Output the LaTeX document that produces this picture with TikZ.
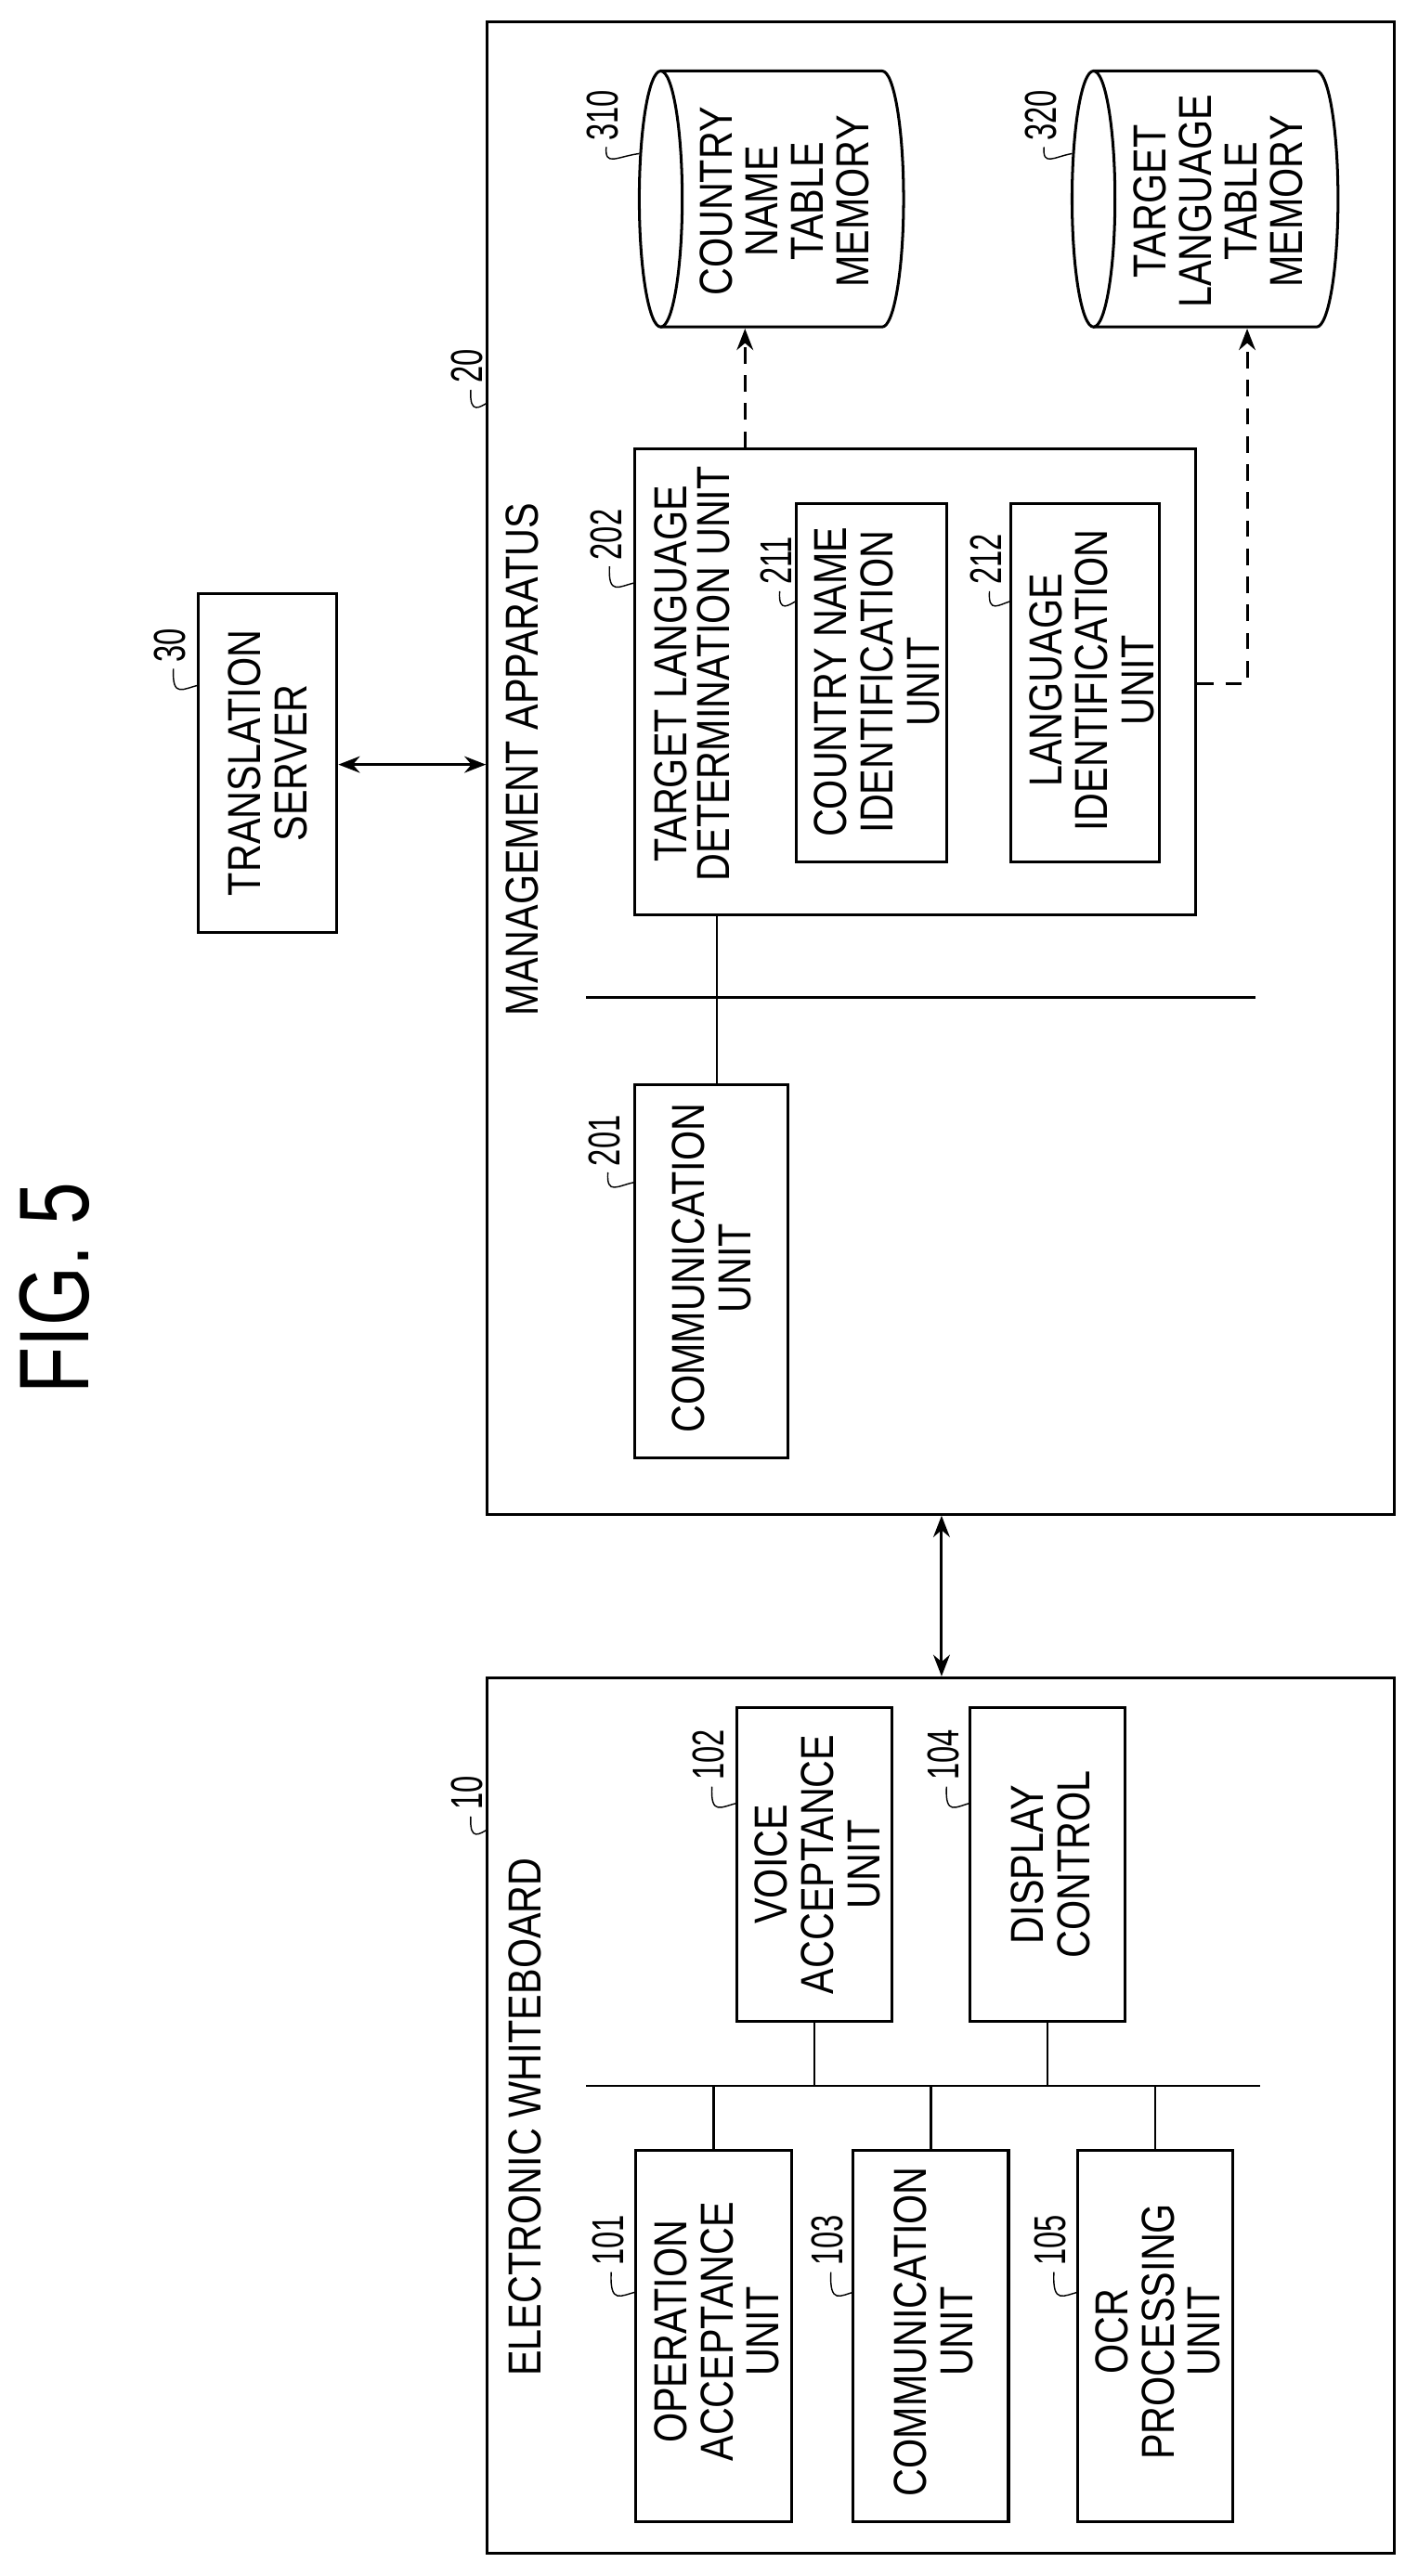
\documentclass[tikz,border=0pt]{standalone}
\usepackage{fontspec}
\setmainfont{Liberation Sans}[FakeStretch=0.83]
\newfontfamily\numfont{Liberation Sans}[FakeStretch=0.68]
\newfontfamily\figfont{Liberation Sans}[FakeStretch=0.77]
\usetikzlibrary{arrows.meta}
\begin{document}
\begin{tikzpicture}[x=1pt,y=-1pt,line width=1.7pt,
  box/.style={draw},
  txt/.style={rotate=90,align=center,font=\fontsize{28}{28}\selectfont,inner sep=0},
  lbl/.style={rotate=90,anchor=west,font=\numfont\fontsize{27}{27}\selectfont,inner sep=0},
  tip/.style={Stealth[length=13pt,width=10pt]},
  arr/.style={{Stealth[length=13pt,width=10pt]}-{Stealth[length=13pt,width=10pt]}},
  darr/.style={dash pattern=on 10pt off 7pt,-{Stealth[length=13pt,width=10pt]}},
  sq/.style={line width=0.8pt}]
\useasboundingbox (0,0) rectangle (850,1560);
\newcommand\lead[4]{% lx, yb, edge x, y
  \draw[sq] (#1+2,#2+3) .. controls (#1+1,#4+8) and (#1+8,#4+2) .. (#3,#4);}
% title
\node[rotate=90,font=\figfont\fontsize{60}{60}\selectfont,inner sep=0] (fig) at (33,780) {FIG. 5};
% translation server
\node[box,minimum width=84pt,minimum height=205pt,inner sep=0] (ts) at (162,462) {};
\node[txt] at (162,462) {TRANSLATION\\SERVER};
\node[lbl] (l30) at (103,402) {30}; \lead{103}{402}{120}{415}
% management apparatus
\node[box,minimum width=549pt,minimum height=904pt,inner sep=0] (ma) at (569.5,465) {};
\node[txt] at (316,460) {MANAGEMENT APPARATUS};
\node[lbl] (l20) at (283,233) {20}; \lead{283}{233}{295}{244}
% comm 201
\node[box,minimum width=93pt,minimum height=226pt,inner sep=0] (c201) at (430.5,770) {};
\node[txt] at (431,768) {COMMUNICATION\\UNIT};
\node[lbl] (l201) at (366,707) {201}; \lead{366}{707}{384}{716}
% TLD 202
\node[box,minimum width=340pt,minimum height=282pt,inner sep=0] (tld) at (554,413) {};
\node[txt,font=\fontsize{28}{26}\selectfont] at (419,408) {TARGET LANGUAGE\\DETERMINATION UNIT};
\node[lbl] (l202) at (367,340) {202}; \lead{367}{340}{384}{353}
\node[box,minimum width=91pt,minimum height=217pt,inner sep=0] (u211) at (527.5,413.5) {};
\node[txt] at (531,413) {COUNTRY NAME\\IDENTIFICATION\\UNIT};
\node[lbl] (l211) at (470,355) {211}; \lead{470}{355}{482}{364}
\node[box,minimum width=90pt,minimum height=217pt,inner sep=0] (u212) at (657,413.5) {};
\node[txt] at (661,412) {LANGUAGE\\IDENTIFICATION\\UNIT};
\node[lbl] (l212) at (597,355) {212}; \lead{597}{355}{612}{364}
% bus in management
\coordinate (mb1) at (355,604); \coordinate (mb2) at (760,604);
\draw[line width=1.3pt] (mb1) -- (mb2);
\draw[line width=1.3pt] (tld.south -| 434,0) -- (c201.north -| 434,0);
% cylinders
\foreach \xl/\xr/\lab/\t/\lx in {400/534/310/{COUNTRY\\NAME\\TABLE\\MEMORY}/365, 662/797/320/{TARGET\\LANGUAGE\\TABLE\\MEMORY}/630}{
  \draw (\xl,43) -- (\xr,43) arc[start angle=-90,end angle=90,x radius=13,y radius=77.5] -- (\xl,198);
  \draw (\xl,120.5) ellipse[x radius=13,y radius=77.5];
  \node[txt,font=\fontsize{28}{27.5}\selectfont] at ({(\xl+\xr)/2+8},122) {\t};
  \node[lbl] at (\lx,86) {\lab};
  \lead{\lx}{86}{\xl-13}{93}
}
\coordinate (cyl1) at (451,199);
\coordinate (cyl2) at (755,199);
\draw[darr] (tld.north -| cyl1) -- (cyl1);
\draw[darr] (tld.east |- 0,414) -- (755,414) -- (cyl2);
% arrows
\draw[arr] (ts.east |- 0,463) -- (ma.west |- 0,463);
% whiteboard
\node[box,minimum width=549pt,minimum height=530pt,inner sep=0] (ew) at (569.5,1281) {};
\draw[arr] (ma.south -| 570,0) -- (ew.north -| 570,0);
\node[txt] at (318,1282) {ELECTRONIC WHITEBOARD};
\node[lbl] (l10) at (283,1097) {10}; \lead{283}{1097}{295}{1108}
\coordinate (wb1) at (355,1263); \coordinate (wb2) at (763,1263);
\draw[line width=1.3pt] (wb1) -- (wb2);
\tikzset{ub/.style={box,minimum width=94pt,minimum height=225pt,inner sep=0},
         tb/.style={box,minimum width=94pt,minimum height=190pt,inner sep=0}}
\node[ub] (u101) at (432,1414.5) {}; \node[txt] at (434,1412) {OPERATION\\ACCEPTANCE\\UNIT};
\node[ub] (u103) at (563.5,1414.5) {}; \node[txt] at (565,1412) {COMMUNICATION\\UNIT};
\node[ub] (u105) at (699.5,1414.5) {}; \node[txt] at (701,1412) {OCR\\PROCESSING\\UNIT};
\node[tb] (u102) at (493,1129) {}; \node[txt] at (495,1129) {VOICE\\ACCEPTANCE\\UNIT};
\node[tb] (u104) at (634,1129) {}; \node[txt] at (636,1129) {DISPLAY\\CONTROL};
\draw[line width=1.3pt] (u101.north) -- (u101.north |- wb1);
\draw[line width=1.3pt] (u103.north) -- (u103.north |- wb1);
\draw[line width=1.3pt] (u105.north) -- (u105.north |- wb1);
\draw[line width=1.3pt] (u102.south) -- (u102.south |- wb1);
\draw[line width=1.3pt] (u104.south) -- (u104.south |- wb1);
\node[lbl] at (368,1373) {101}; \lead{368}{1373}{385}{1388}
\node[lbl] at (429,1079) {102}; \lead{429}{1079}{446}{1092}
\node[lbl] at (501,1373) {103}; \lead{501}{1373}{517}{1388}
\node[lbl] at (571,1079) {104}; \lead{571}{1079}{587}{1092}
\node[lbl] at (636,1373) {105}; \lead{636}{1373}{653}{1388}
\end{tikzpicture}
\end{document}
